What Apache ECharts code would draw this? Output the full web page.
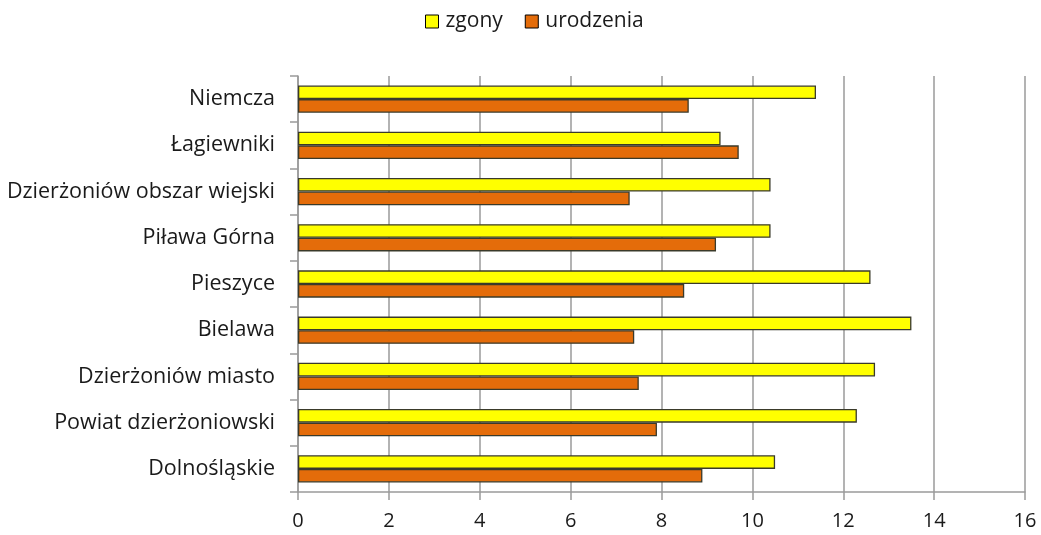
<!DOCTYPE html>
<html>
<head>
<meta charset="utf-8">
<script src="https://cdn.jsdelivr.net/npm/echarts@6/dist/echarts.min.js"></script>
<style>
  html, body { margin: 0; padding: 0; background: #fff; }
  #chart { width: 1041px; height: 535px; }
</style>
</head>
<body>
<div id="chart"></div>
<script>
// dane
const categories = [
  'Niemcza',
  'Łagiewniki',
  'Dzierżoniów obszar wiejski',
  'Piława Górna',
  'Pieszyce',
  'Bielawa',
  'Dzierżoniów miasto',
  'Powiat dzierżoniowski',
  'Dolnośląskie'
];
const zgony = [11.4, 9.3, 10.4, 10.4, 12.6, 13.5, 12.7, 12.3, 10.5];
const urodzenia = [8.6, 9.7, 7.3, 9.2, 8.5, 7.4, 7.5, 7.9, 8.9];
const xTicks = [0, 2, 4, 6, 8, 10, 12, 14, 16];

const chart = echarts.init(document.getElementById('chart'));
const fontFamily = '"Open Sans", "Noto Sans", sans-serif';

const option = {
  animation: false,
  textStyle: { fontFamily: fontFamily },
  legend: {
    top: 6,
    left: 420,
    icon: 'rect',
    itemWidth: 13,
    itemHeight: 13,
    itemGap: 22,
    selectedMode: false,
    textStyle: { fontSize: 21, color: '#1a1a1a', fontFamily: fontFamily, padding: [0, 0, 0, 2] },
    data: [
      { name: 'zgony', itemStyle: { borderColor: '#000', borderWidth: 1 } },
      { name: 'urodzenia', itemStyle: { borderColor: '#000', borderWidth: 1 } }
    ]
  },
  grid: { left: 298, right: 16, top: 76, bottom: 43 },
  xAxis: {
    type: 'value',
    min: xTicks[0],
    max: xTicks[xTicks.length - 1],
    interval: 2,
    axisLine: { show: true, lineStyle: { color: '#9a9a9a', width: 1.5 } },
    axisTick: { show: true, length: 8, lineStyle: { color: '#9a9a9a', width: 1.5 } },
    axisLabel: { fontSize: 20, color: '#1a1a1a', margin: 19, fontFamily: fontFamily },
    splitLine: { show: true, lineStyle: { color: '#9a9a9a', width: 1.5 } }
  },
  yAxis: {
    type: 'category',
    inverse: true,
    data: categories,
    axisLine: { show: true, lineStyle: { color: '#9a9a9a', width: 1.5 } },
    axisTick: { show: true, length: 8, lineStyle: { color: '#9a9a9a', width: 1.5 } },
    axisLabel: { fontSize: 21.5, color: '#1a1a1a', margin: 23, fontFamily: fontFamily }
  },
  series: [
    {
      name: 'zgony',
      type: 'bar',
      data: zgony,
      barGap: '0%',
      barCategoryGap: '41%',
      itemStyle: { color: '#ffff00', borderColor: '#3a3a2a', borderWidth: 1.3 }
    },
    {
      name: 'urodzenia',
      type: 'bar',
      data: urodzenia,
      itemStyle: { color: '#e46c0a', borderColor: '#3a3a2a', borderWidth: 1.3 }
    }
  ]
};

chart.setOption(option);
window.addEventListener('resize', () => chart.resize(), false);
</script>
</body>
</html>
